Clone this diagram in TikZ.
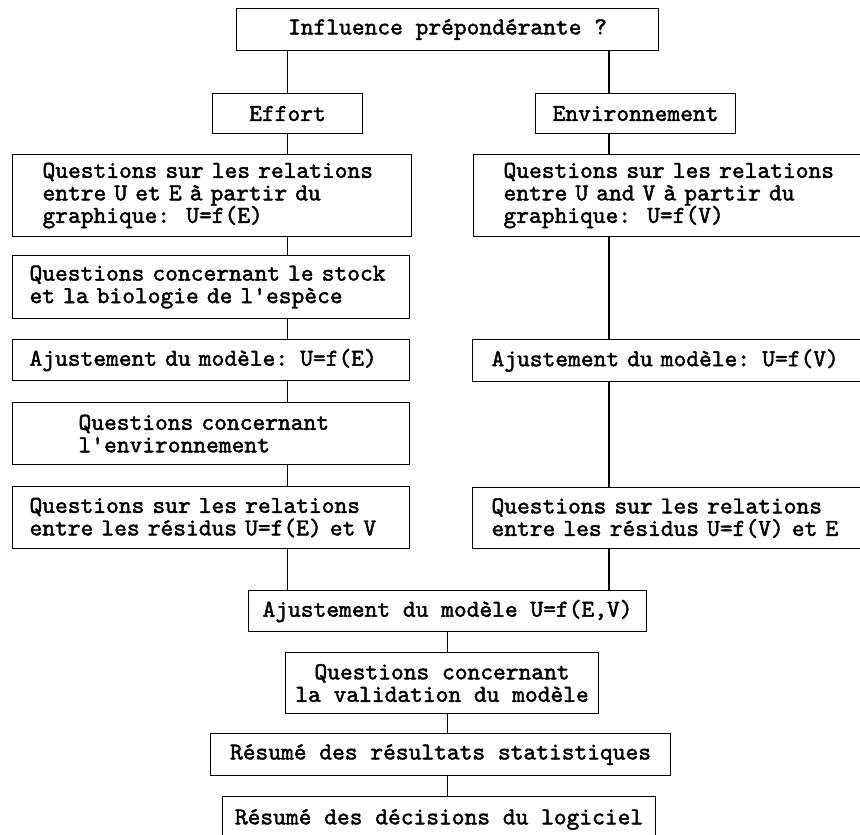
\documentclass[tikz,border=0pt]{standalone}
\usepackage{fontspec}
\newfontfamily\boxfont{lmmono10-regular.otf}[FakeBold=1.8,Ligatures=TeXOff]
\usepackage{tikz}

\begin{document}
\begin{tikzpicture}[x=1pt,y=-1pt,
    stage/.style={draw,line width=1.1pt,anchor=north west,inner ysep=0pt,
      font=\fontsize{24.3}{22.5}\selectfont\boxfont},
    link/.style={line width=1.1pt}]
  \useasboundingbox (0,0) rectangle (860,835);
  \clip (0,0) rectangle (860,835);
  % top of the chart
  \node[stage,minimum width=422,minimum height=42,align=center] (infl) at (236,8)
    {Influence prépondérante ?};
  \node[stage,minimum width=150,minimum height=40,align=center] (effort) at (212,93)
    {Effort};
  \node[stage,minimum width=200,minimum height=40,align=center] (envir) at (535,93)
    {Environnement};
  \coordinate (rcol) at (609,0);
  % left column
  \node[stage,inner xsep=30,text width=339,minimum height=82,align=left] (qUE) at (12,154)
    {\mbox{Questions sur les relations}\\\mbox{entre U et E à partir du}\\\mbox{graphique:\ \ U=f(E)}};
  \node[stage,inner xsep=17,text width=363,minimum height=63,align=left] (stock) at (12,255)
    {\mbox{Questions concernant le stock}\\\mbox{et la biologie de l'espèce}};
  \node[stage,inner xsep=17,text width=363,minimum height=41,align=left] (ajE) at (12,339)
    {\mbox{Ajustement du modèle: U=f(E)}};
  \node[stage,inner xsep=66,text width=265,minimum height=62,align=left] (qenv) at (12,402)
    {Questions concernant\\l'environnement};
  \node[stage,inner xsep=17,text width=363,minimum height=62,align=left] (resE) at (12,486)
    {\mbox{Questions sur les relations}\\\mbox{entre les résidus U=f(E) et V}};
  % right column
  \node[stage,inner xsep=30,text width=360,minimum height=82,align=left] (qUV) at (473,154)
    {Questions sur les relations\\entre U and V à partir du\\graphique:\ \ U=f(V)};
  \node[stage,inner xsep=19,text width=382,minimum height=42,align=left] (ajV) at (472,339)
    {Ajustement du modèle: U=f(V)};
  \node[stage,inner xsep=19,text width=382,minimum height=61,align=left] (resV) at (472,487)
    {Questions sur les relations\\entre les résidus U=f(V) et E};
  % common part
  \node[stage,minimum width=398,minimum height=41,align=center] (ajEV) at (248,590)
    {Ajustement du modèle U=f(E,V)};
  \node[stage,minimum width=313,minimum height=61,align=center] (valid) at (285,652)
    {Questions concernant\\la validation du modèle};
  \node[stage,minimum width=460,minimum height=42,align=center] (result) at (210,733)
    {Résumé des résultats statistiques};
  \node[stage,minimum width=433,minimum height=46,align=center] (decis) at (222,796)
    {Résumé des décisions du logiciel};
  % connectors
  \draw[link] (infl.south -| effort.north) -- (effort.north);
  \draw[link] (infl.south -| rcol) -- (envir.north -| rcol);
  \draw[link] (effort.south) -- (qUE.north -| effort.south);
  \draw[link] (qUE.south -| effort.south) -- (stock.north -| effort.south);
  \draw[link] (stock.south -| effort.south) -- (ajE.north -| effort.south);
  \draw[link] (ajE.south -| effort.south) -- (qenv.north -| effort.south);
  \draw[link] (qenv.south -| effort.south) -- (resE.north -| effort.south);
  \draw[link] (resE.south -| effort.south) -- (ajEV.north -| effort.south);
  \draw[link] (envir.south -| rcol) -- (qUV.north -| rcol);
  \draw[link] (qUV.south -| rcol) -- (ajV.north -| rcol);
  \draw[link] (ajV.south -| rcol) -- (resV.north -| rcol);
  \draw[link] (resV.south -| rcol) -- (ajEV.north -| rcol);
  \draw[link] (ajEV.south -| infl.south) -- (valid.north -| infl.south);
  \draw[link] (valid.south -| infl.south) -- (result.north -| infl.south);
  \draw[link] (result.south -| infl.south) -- (decis.north -| infl.south);
\end{tikzpicture}
\end{document}
